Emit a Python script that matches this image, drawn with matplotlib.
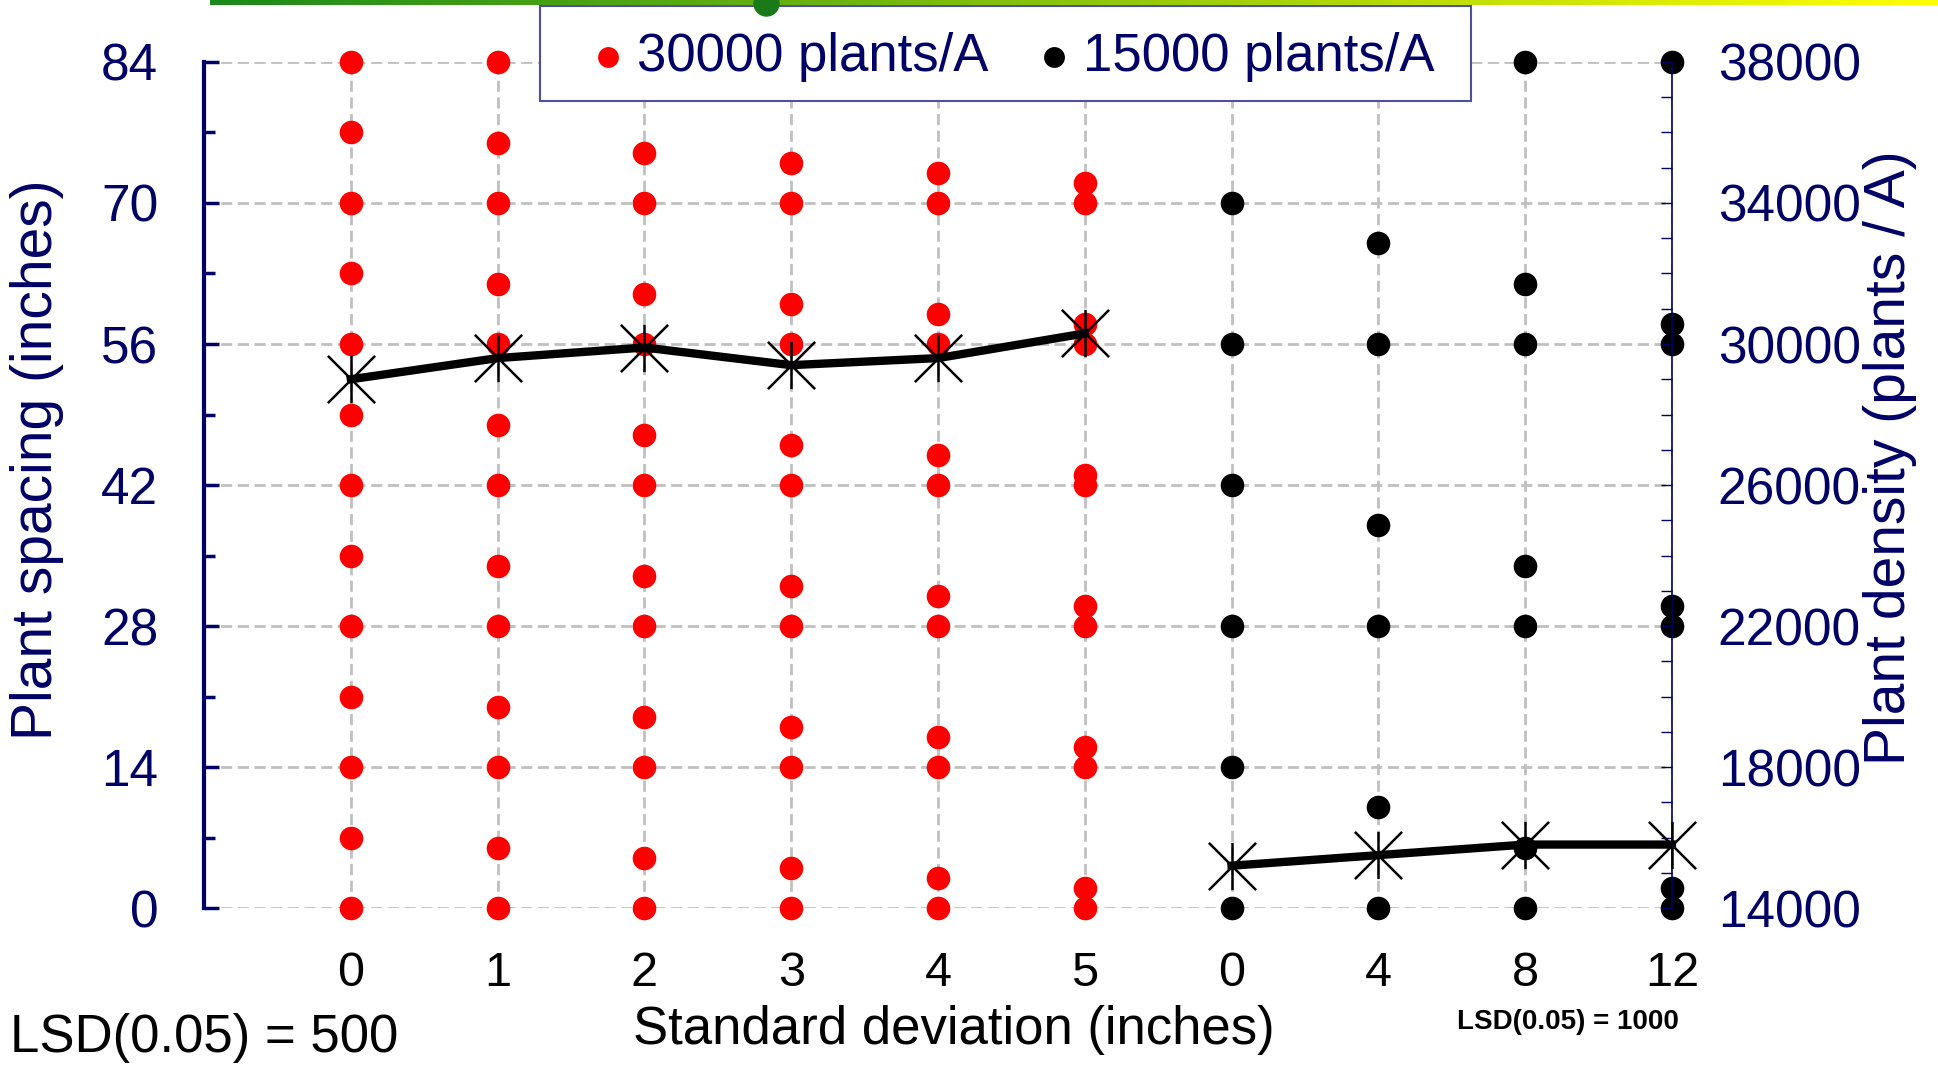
import numpy as np
import matplotlib
matplotlib.use("Agg")
import matplotlib.pyplot as plt
from matplotlib.path import Path
from matplotlib.lines import Line2D
from matplotlib.patches import Rectangle
from matplotlib.ticker import MultipleLocator, FixedLocator
from matplotlib.colors import LinearSegmentedColormap

plt.rcParams['font.family'] = ['Liberation Sans', 'DejaVu Sans']

NAVY = '#000066'
GRID = '#c0c0c0'

# x categories: standard deviation (inches) for each group
sd_labels = ['0', '1', '2', '3', '4', '5', '0', '4', '8', '12']

# individual plant positions (spacing, inches) per column
spacing_30000 = [
    [0, 7, 14, 21, 28, 35, 42, 49, 56, 63, 70, 77, 84],
    [0, 6, 14, 20, 28, 34, 42, 48, 56, 62, 70, 76, 84],
    [0, 5, 14, 19, 28, 33, 42, 47, 56, 61, 70, 75, 84],
    [0, 4, 14, 18, 28, 32, 42, 46, 56, 60, 70, 74, 84],
    [0, 3, 14, 17, 28, 31, 42, 45, 56, 59, 70, 73, 84],
    [0, 2, 14, 16, 28, 30, 42, 43, 56, 58, 70, 72, 84],
]
spacing_15000 = [
    [0, 14, 28, 42, 56, 70, 84],
    [0, 10, 28, 38, 56, 66, 84],
    [0, 6, 28, 34, 56, 62, 84],
    [0, 2, 28, 30, 56, 58, 84],
]

# measured plant density (plants/A)
density_30000 = [29000, 29600, 29900, 29400, 29600, 30300]
density_15000 = [15200, 15500, 15800, 15800]

density_ticks = [14000, 18000, 22000, 26000, 30000, 34000, 38000]
legend_labels = ['30000 plants/A', '15000 plants/A']

# asterisk marker: vertical bar plus an X
star = Path([(0, -1), (0, 1), (-1, -1), (1, 1), (-1, 1), (1, -1)],
            [Path.MOVETO, Path.LINETO, Path.MOVETO, Path.LINETO, Path.MOVETO, Path.LINETO])

fig = plt.figure(figsize=(19.38, 10.67), dpi=100)
ax = fig.add_axes([0.1053, 0.149, 0.7574, 0.7929])

n30 = len(spacing_30000)
for i, col in enumerate(spacing_30000):
    ax.plot([i] * len(col), col, linestyle='none', marker='o', ms=17,
            color='#ff0000', mec='none', clip_on=False, zorder=3)
for j, col in enumerate(spacing_15000):
    ax.plot([n30 + j] * len(col), col, linestyle='none', marker='o', ms=17,
            color='black', mec='none', clip_on=False, zorder=3)

ax.set_xlim(-1, len(sd_labels) - 1)
ax.set_ylim(0, 84)
ax.set_xticks(np.arange(len(sd_labels)))
ax.set_xticklabels(sd_labels)
ax.yaxis.set_major_locator(MultipleLocator(14))
ax.yaxis.set_minor_locator(MultipleLocator(7))
ax.grid(True, color=GRID, linestyle=(0, (4, 2)), linewidth=2, zorder=0)
ax.set_axisbelow(True)

for s in ['top', 'right', 'bottom']:
    ax.spines[s].set_visible(False)
ax.spines['left'].set_color(NAVY)
ax.spines['left'].set_linewidth(3)
ax.tick_params(axis='y', which='major', direction='in', length=11, width=2.5,
               color=NAVY, labelcolor=NAVY, labelsize=37, pad=33)
ax.tick_params(axis='y', which='minor', direction='in', length=8, width=2.5, color=NAVY)
ax.tick_params(axis='x', length=0, labelsize=35, pad=31, labelcolor='black')

ax2 = ax.twinx()
ax2.set_ylim(density_ticks[0], density_ticks[-1])
ax2.yaxis.set_major_locator(FixedLocator(density_ticks))
ax2.yaxis.set_minor_locator(MultipleLocator(1000))
for s in ['top', 'left', 'bottom']:
    ax2.spines[s].set_visible(False)
ax2.spines['right'].set_color(NAVY)
ax2.spines['right'].set_linewidth(1.2)
ax2.tick_params(axis='y', which='both', direction='in', length=8, width=1,
                color=NAVY, labelcolor=NAVY, labelsize=37, pad=33)

x30 = np.arange(n30)
x15 = np.arange(n30, n30 + len(density_15000))
ax2.plot(x30, density_30000, color='black', lw=6, marker=star, ms=34, mew=1.8,
         clip_on=False, zorder=4)
ax2.plot(x15, density_15000, color='black', lw=6, marker=star, ms=34, mew=1.8,
         clip_on=False, zorder=4)

# legend box drawn on top of the plot area (hides the top row of dots)
W, H = 1938, 1067
fig.patches.append(Rectangle((540 / W, 1 - 101 / H), (1471 - 540) / W, (101 - 6) / H,
                             transform=fig.transFigure, facecolor='white',
                             edgecolor='#5050a0', linewidth=1.5, zorder=10))
for (mx, tx), c, lab in zip([(608, 637), (1054, 1083)], ['#ff0000', 'black'], legend_labels):
    fig.lines.append(Line2D([mx / W], [1 - 57 / H], transform=fig.transFigure,
                            linestyle='none', marker='o', ms=15, color=c, mec='none',
                            zorder=11))
    fig.text(tx / W, 1 - 57 / H, lab, ha='left', va='center', color=NAVY,
             fontsize=38, zorder=11)

fig.text(0.019, 0.569, 'Plant spacing (inches)', rotation=90, ha='center', va='center',
         color=NAVY, fontsize=41)
fig.text(0.975, 0.571, 'Plant density (plants / A)', rotation=90, ha='center', va='center',
         color=NAVY, fontsize=41)
fig.text(0.492, 0.035, 'Standard deviation (inches)', ha='center', va='center',
         color='black', fontsize=38)
fig.text(0.005, 0.027, 'LSD(0.05) = 500', ha='left', va='center', color='black', fontsize=38)
fig.text(0.809, 0.042, 'LSD(0.05) = 1000', ha='center', va='center', color='black',
         fontsize=20, fontweight='bold')

# thin green-to-yellow bar at the top edge
bar = fig.add_axes([210 / W, 1 - 5 / H, 1 - 210 / W, 5 / H])
bar.set_zorder(12)
grad = np.linspace(0, 1, 256)[None, :]
cmap = LinearSegmentedColormap.from_list('gy', ['#1a8a1a', '#ffff00'])
bar.imshow(grad, aspect='auto', cmap=cmap, extent=(0, 1, 0, 1))
bar.plot([(766 - 210) / (W - 210)], [0.5], 'o', color='#1a7a1a', ms=18, clip_on=False)
bar.set_xlim(0, 1)
bar.set_ylim(0, 1)
bar.axis('off')

fig.savefig('out.png', dpi=100)
